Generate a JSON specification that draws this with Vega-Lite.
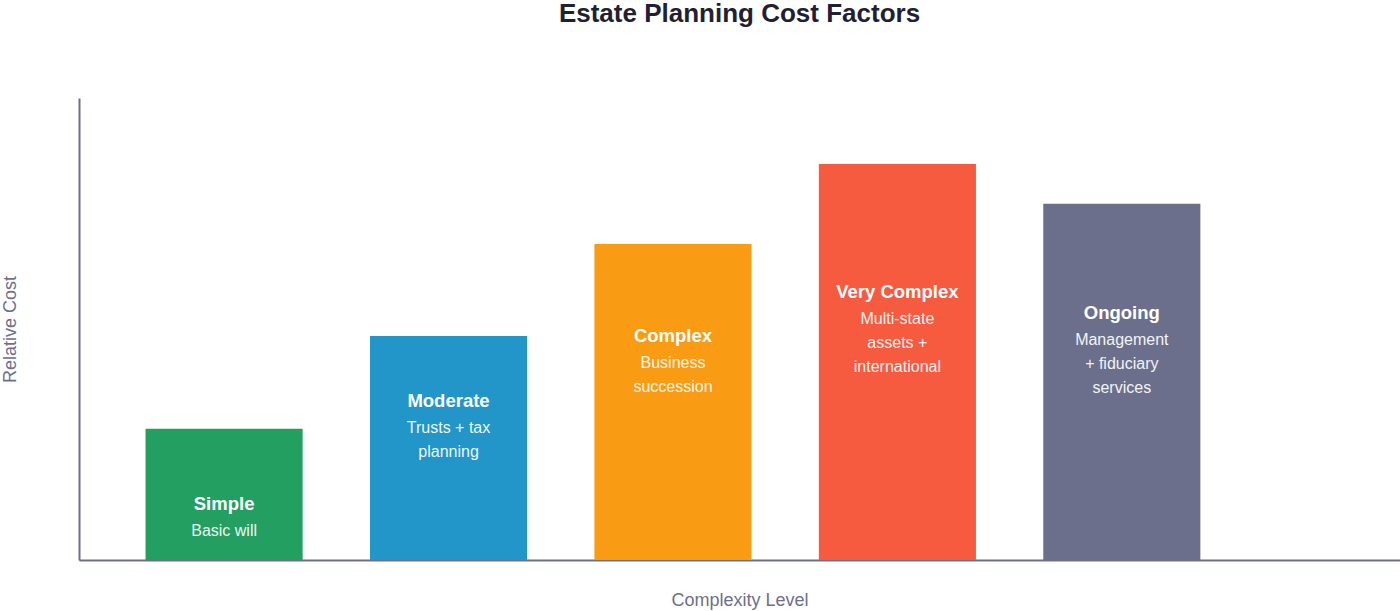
{
  "$schema": "https://vega.github.io/schema/vega-lite/v6.json",
  "width": 1321,
  "height": 462,
  "autosize": "none",
  "padding": {"left": 79, "top": 98, "right": 0, "bottom": 51},
  "background": "white",
  "title": {
    "text": "Estate Planning Cost Factors",
    "font": "Liberation Sans",
    "fontSize": 26,
    "fontWeight": "bold",
    "color": "#1f2133",
    "anchor": "middle",
    "offset": 71
  },
  "config": {
    "view": {"stroke": null},
    "font": "Liberation Sans",
    "axis": {
      "domainColor": "#6e6f8c",
      "domainWidth": 2,
      "titleColor": "#6e6f8c",
      "titleFont": "Liberation Sans",
      "titleFontSize": 18,
      "titleFontWeight": "normal"
    }
  },
  "data": {
    "values": [
      {"level": "Simple", "desc": ["Basic will"], "cost": 28.4},
      {"level": "Moderate", "desc": ["Trusts + tax", "planning"], "cost": 48.5},
      {"level": "Complex", "desc": ["Business", "succession"], "cost": 68.4},
      {"level": "Very Complex", "desc": ["Multi-state", "assets +", "international"], "cost": 85.7},
      {"level": "Ongoing", "desc": ["Management", "+ fiduciary", "services"], "cost": 77.1}
    ]
  },
  "encoding": {
    "x": {
      "field": "level",
      "type": "nominal",
      "sort": null,
      "title": "Complexity Level",
      "scale": {"paddingInner": 0.3, "paddingOuter": 0.593, "align": 0.25},
      "axis": {"labels": false, "ticks": false, "grid": false, "titlePadding": 31}
    }
  },
  "layer": [
    {
      "mark": {"type": "bar"},
      "encoding": {
        "y": {
          "field": "cost",
          "type": "quantitative",
          "title": "Relative Cost",
          "scale": {"domain": [0, 100], "nice": false},
          "axis": {"labels": false, "ticks": false, "grid": false, "titlePadding": 60}
        },
        "color": {
          "field": "level",
          "type": "nominal",
          "legend": null,
          "scale": {
            "domain": ["Simple", "Moderate", "Complex", "Very Complex", "Ongoing"],
            "range": ["#229f61", "#2296c8", "#f99c14", "#f65a3f", "#6b6f8b"]
          }
        }
      }
    },
    {
      "mark": {"type": "text", "color": "white", "fontSize": 18.5, "fontWeight": "bold", "baseline": "middle"},
      "encoding": {
        "y": {
          "field": "cost",
          "type": "quantitative",
          "scale": {"type": "log", "domain": [21.2, 236.2], "nice": false},
          "axis": null
        },
        "text": {"field": "level"}
      }
    },
    {
      "mark": {"type": "text", "color": "white", "opacity": 0.92, "fontSize": 16, "baseline": "top", "dy": 19, "lineHeight": 24},
      "encoding": {
        "y": {
          "field": "cost",
          "type": "quantitative",
          "scale": {"type": "log", "domain": [21.2, 236.2], "nice": false},
          "axis": null
        },
        "text": {"field": "desc"}
      }
    }
  ],
  "resolve": {"scale": {"y": "independent"}}
}
